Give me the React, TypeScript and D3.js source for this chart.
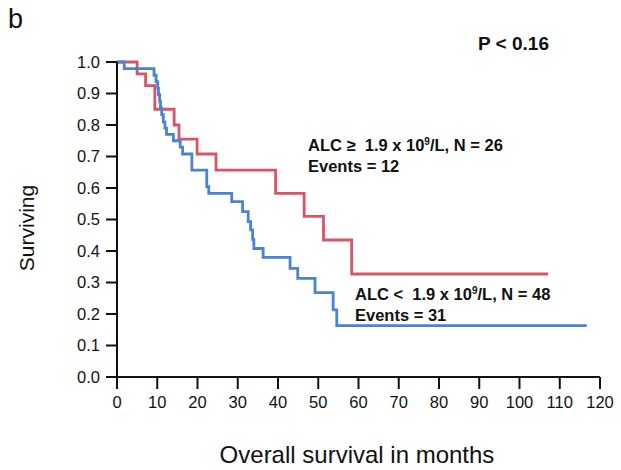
import React from "react";
import * as d3 from "d3";

const xTicks = [0, 10, 20, 30, 40, 50, 60, 70, 80, 90, 100, 110, 120];
const yTicks = [0, 0.1, 0.2, 0.3, 0.4, 0.5, 0.6, 0.7, 0.8, 0.9, 1.0];

// ALC >= 1.9 group (red)
const highTimes = [0, 5.0, 7.1, 9.4, 14.2, 15.4, 19.9, 24.6, 39.4, 46.5, 51.3, 58.3, 107.1];
const highSurv = [1, 0.962, 0.925, 0.85, 0.8, 0.755, 0.708, 0.657, 0.583, 0.51, 0.435, 0.327, 0.327];

// ALC < 1.9 group (blue)
const lowTimes = [0, 1.8, 9.2, 9.7, 10.1, 10.3, 10.6, 10.8, 11.1, 11.5, 11.9, 12.3, 14.0, 15.7, 16.3, 18.6, 22.3, 22.8, 28.5, 31.2, 32.6, 33.2, 33.7, 34.0, 36.3, 43.0, 44.9, 49.2, 53.7, 54.6, 116.7];
const lowSurv = [1, 0.979, 0.958, 0.938, 0.917, 0.896, 0.875, 0.854, 0.833, 0.81, 0.79, 0.77, 0.75, 0.73, 0.708, 0.657, 0.604, 0.583, 0.557, 0.525, 0.493, 0.467, 0.437, 0.408, 0.38, 0.345, 0.313, 0.268, 0.213, 0.163, 0.163];

const RED = "#DA5468";
const BLUE = "#4A82D6";
const FONT = "'Liberation Sans', Arial, Helvetica, sans-serif";

export default function App() {
  const x = d3.scaleLinear().domain([0, 120]).range([117, 600]);
  const y = d3.scaleLinear().domain([0, 1]).range([377, 62]);
  const line = d3
    .line<[number, number]>()
    .x((d) => x(d[0]))
    .y((d) => y(d[1]))
    .curve(d3.curveStepAfter);
  const high = highTimes.map((t, i) => [t, highSurv[i]] as [number, number]);
  const low = lowTimes.map((t, i) => [t, lowSurv[i]] as [number, number]);

  return (
    <svg
      width={621}
      height={470}
      style={{ position: "absolute", left: 0, top: 0, background: "#fff" }}
      fontFamily={FONT}
    >
      <rect x={0} y={0} width={621} height={470} fill="#fff" />
      <text x={8} y={28} fontSize={27} fill="#111">b</text>
      <text x={478} y={50} fontSize={19} fontWeight="bold" fill="#111">P &lt; 0.16</text>

      {/* curves */}
      <path d={line(high) || ""} fill="none" stroke={RED} strokeWidth={2.8} />
      <path d={line(low) || ""} fill="none" stroke={BLUE} strokeWidth={2.8} />

      {/* y axis */}
      <line x1={117} x2={117} y1={y(1)} y2={y(0)} stroke="#111" strokeWidth={2} />
      {yTicks.map((t) => (
        <g key={"y" + t}>
          <line x1={106} x2={117} y1={y(t)} y2={y(t)} stroke="#111" strokeWidth={2} />
          <text x={100} y={y(t)} dy="0.36em" textAnchor="end" fontSize={16.5} fill="#111">
            {t.toFixed(1)}
          </text>
        </g>
      ))}
      {/* x axis */}
      <line x1={x(0) - 1} x2={x(120)} y1={377} y2={377} stroke="#111" strokeWidth={2} />
      {xTicks.map((t) => (
        <g key={"x" + t}>
          <line x1={x(t)} x2={x(t)} y1={377} y2={389} stroke="#111" strokeWidth={2} />
          <text x={x(t)} y={408} textAnchor="middle" fontSize={16.5} fill="#111">
            {t}
          </text>
        </g>
      ))}

      <text
        transform="translate(34,228) rotate(-90)"
        textAnchor="middle"
        fontSize={21}
        fill="#111"
      >
        Surviving
      </text>
      <text x={357} y={463} textAnchor="middle" fontSize={24} fill="#111">
        Overall survival in months
      </text>

      {/* annotations */}
      <text x={308} y={151} fontSize={16.5} fontWeight="bold" fill="#111" style={{ whiteSpace: "pre" }}>
        {"ALC \u2265  1.9 x 10"}
        <tspan dy={-6} fontSize={10}>9</tspan>
        <tspan dy={6}>{"/L, N = 26"}</tspan>
      </text>
      <text x={308} y={172} fontSize={16.5} fontWeight="bold" fill="#111">
        Events = 12
      </text>
      <text x={355} y={300} fontSize={16.5} fontWeight="bold" fill="#111" style={{ whiteSpace: "pre" }}>
        {"ALC <  1.9 x 10"}
        <tspan dy={-6} fontSize={10}>9</tspan>
        <tspan dy={6}>{"/L, N = 48"}</tspan>
      </text>
      <text x={355} y={321} fontSize={16.5} fontWeight="bold" fill="#111">
        Events = 31
      </text>
    </svg>
  );
}
